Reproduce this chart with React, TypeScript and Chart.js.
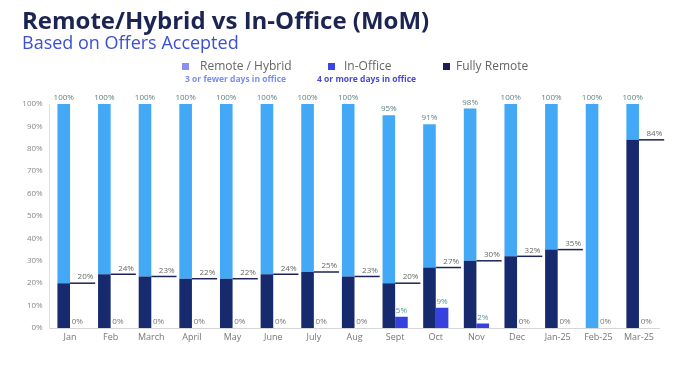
import React, { useEffect, useRef } from "react";
import { Chart, registerables } from "chart.js";

Chart.register(...registerables);

const categories = ["Jan", "Feb", "March", "April", "May", "June", "July", "Aug", "Sept", "Oct", "Nov", "Dec", "Jan-25", "Feb-25", "Mar-25"];
const fullyRemote = [20, 24, 23, 22, 22, 24, 25, 23, 20, 27, 30, 32, 35, 0, 84];
const remoteHybrid = [80, 76, 77, 78, 78, 76, 75, 77, 75, 64, 68, 68, 65, 100, 16];
const inOffice = [0, 0, 0, 0, 0, 0, 0, 0, 5, 9, 2, 0, 0, 0, 0];
const yTicks = [0, 10, 20, 30, 40, 50, 60, 70, 80, 90, 100];

const NAVY = "#182a6e";
const HYBRID = "#43a8f5";
const INOFFICE = "#3641df";
const FONT = "'Open Sans', sans-serif";

const labelPlugin = {
  id: "customLabels",
  afterDatasetsDraw(chart: any) {
    const ctx = chart.ctx;
    const xs = chart.scales.x;
    const ys = chart.scales.y;
    const cw = xs.width / categories.length;
    const metaB = chart.getDatasetMeta(1);
    const metaC = chart.getDatasetMeta(2);
    ctx.save();
    ctx.font = `8px ${FONT}`;
    ctx.textAlign = "center";
    ctx.textBaseline = "bottom";
    categories.forEach((_, i) => {
      const center = xs.getPixelForValue(i);
      const fr = fullyRemote[i];
      if (fr > 0) {
        const ly = ys.getPixelForValue(fr);
        ctx.strokeStyle = "#1c2458";
        ctx.lineWidth = 1.5;
        ctx.beginPath();
        ctx.moveTo(center, ly);
        ctx.lineTo(center + cw * 0.62, ly);
        ctx.stroke();
        ctx.fillStyle = "#666";
        ctx.fillText(`${fr}%`, center + cw * 0.38, ly - 2);
      }
      const total = fullyRemote[i] + remoteHybrid[i];
      const elB = metaB.data[i];
      ctx.fillStyle = "#5f8383";
      ctx.fillText(`${total}%`, elB.x, elB.y - 2);
      const elC = metaC.data[i];
      ctx.fillStyle = inOffice[i] > 0 ? "#4f9a9a" : "#777";
      ctx.fillText(`${inOffice[i]}%`, elC.x + (inOffice[i] > 0 ? 0 : 1), elC.y - 2);
    });
    ctx.restore();
  },
};

export default function App() {
  const ref = useRef<HTMLCanvasElement>(null);
  useEffect(() => {
    document.body.style.margin = "0";
    const chart = new Chart(ref.current!, {
      type: "bar",
      data: {
        labels: categories,
        datasets: [
          { label: "Fully Remote", data: fullyRemote, backgroundColor: NAVY, stack: "a" },
          { label: "Remote / Hybrid", data: remoteHybrid, backgroundColor: HYBRID, stack: "a" },
          { label: "In-Office", data: inOffice, backgroundColor: INOFFICE, stack: "b" },
        ],
      },
      options: {
        responsive: false,
        animation: false,
        layout: { padding: { left: 0, right: 27.7, top: 104, bottom: 30 } },
        datasets: { bar: { categoryPercentage: 0.62, barPercentage: 1 } },
        plugins: {
          legend: { display: false },
          tooltip: { enabled: false },
        },
        scales: {
          x: {
            stacked: true,
            grid: { display: false, drawTicks: false },
            border: { display: true, color: "#d6d6d6", width: 1 },
            ticks: { color: "#777", font: { family: FONT, size: 9 }, padding: 4 },
            afterFit: (s: any) => { s.height = 28; },
          },
          y: {
            stacked: true,
            min: 0,
            max: 100,
            afterBuildTicks: (s: any) => { s.ticks = yTicks.map((v) => ({ value: v })); },
            grid: { display: false, drawTicks: false },
            border: { display: true, color: "#e2e2e2", width: 1 },
            ticks: {
              color: "#888",
              font: { family: FONT, size: 8 },
              padding: 7,
              callback: (v: any) => `${v}%`,
            },
            afterFit: (s: any) => { s.width = 49.7; },
          },
        },
      },
      plugins: [labelPlugin],
    });
    return () => chart.destroy();
  }, []);

  const sq = (c: string): React.CSSProperties => ({
    position: "absolute", width: 7, height: 7, background: c,
  });
  const legendText: React.CSSProperties = {
    position: "absolute", fontFamily: FONT, fontSize: 12, color: "#666", lineHeight: "14px", whiteSpace: "nowrap",
  };
  const subText: React.CSSProperties = {
    position: "absolute", fontFamily: FONT, fontSize: 8.5, fontWeight: 700, lineHeight: "10px", whiteSpace: "nowrap",
  };

  return (
    <div style={{ position: "relative", width: 687, height: 386, background: "#fff", overflow: "hidden" }}>
      <canvas ref={ref} width={687} height={386} style={{ position: "absolute", left: 0, top: 0 }} />
      <div style={{ position: "absolute", left: 22, top: 4, fontFamily: FONT, fontWeight: 700, fontSize: 24, color: "#1c2552", whiteSpace: "nowrap", lineHeight: "32px" }}>
        Remote/Hybrid vs In-Office (MoM)
      </div>
      <div style={{ position: "absolute", left: 22, top: 31, fontFamily: FONT, fontSize: 18, color: "#3b50d6", whiteSpace: "nowrap", lineHeight: "22px" }}>
        Based on Offers Accepted
      </div>
      <div style={{ ...sq("#8a90f2"), left: 182, top: 63 }} />
      <div style={{ ...legendText, left: 200, top: 59 }}>Remote / Hybrid</div>
      <div style={{ ...sq("#3a46e2"), left: 328, top: 63 }} />
      <div style={{ ...legendText, left: 344, top: 59 }}>In-Office</div>
      <div style={{ ...sq("#1b1f55"), left: 443, top: 63 }} />
      <div style={{ ...legendText, left: 456, top: 59 }}>Fully Remote</div>
      <div style={{ ...subText, left: 185, top: 74, color: "#7a8ef0" }}>3 or fewer days in office</div>
      <div style={{ ...subText, left: 317, top: 74, color: "#4b49d2" }}>4 or more days in office</div>
    </div>
  );
}
